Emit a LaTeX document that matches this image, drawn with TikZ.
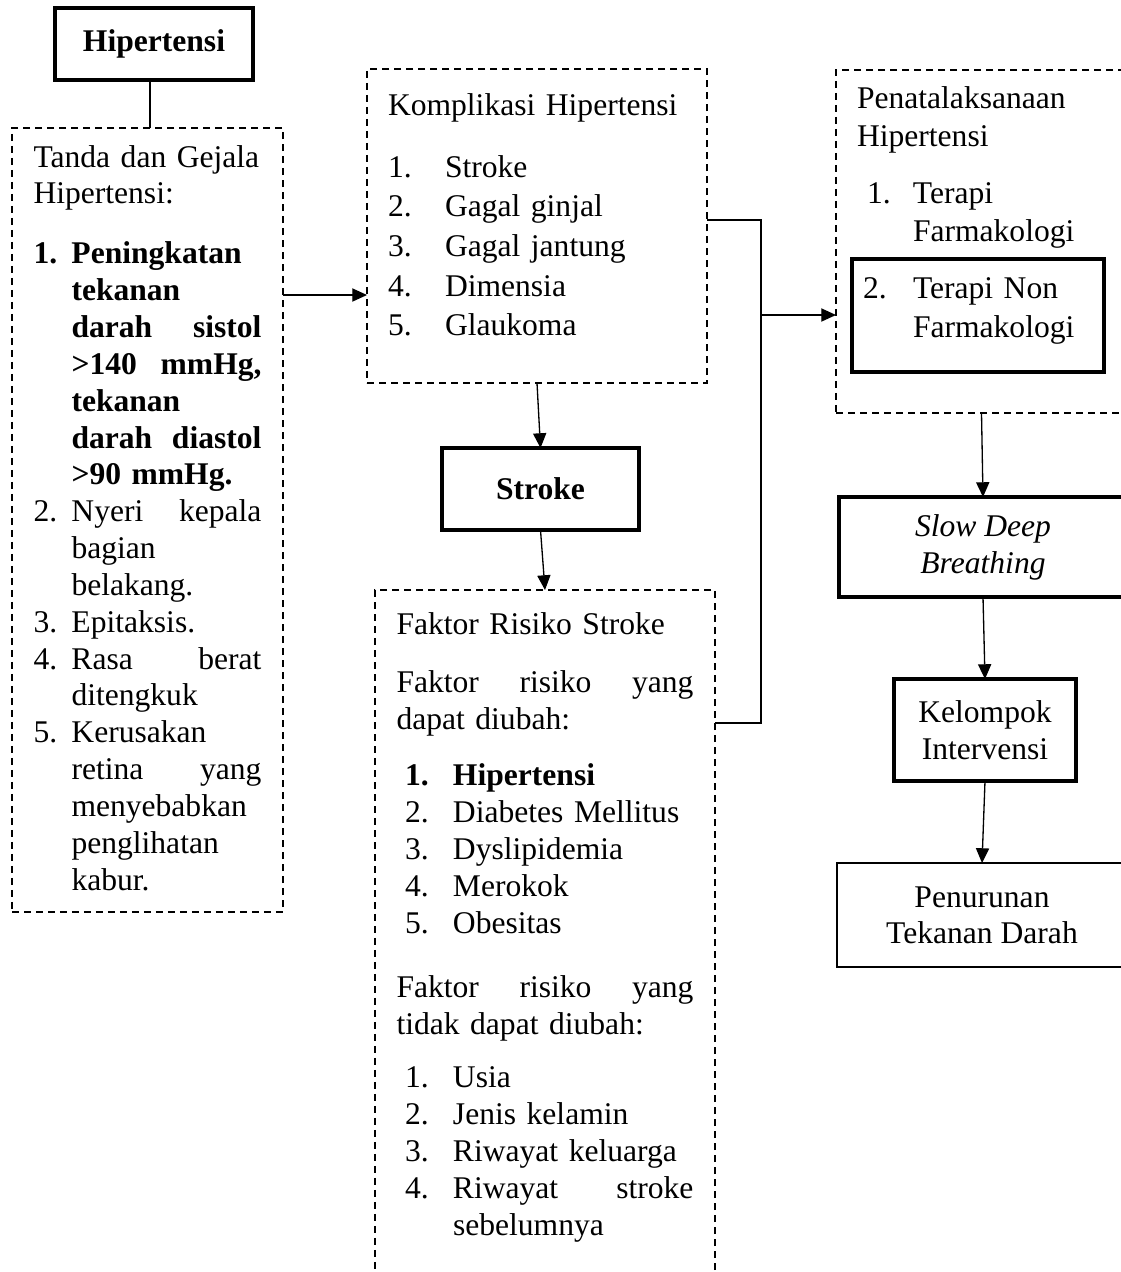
\documentclass[tikz,border=0pt]{standalone}
\usepackage{fontspec}
\setmainfont{Liberation Serif}
\usetikzlibrary{arrows.meta}

% numbered item with hanging indent: [indent]{hang}{label}{text}
\newcommand{\numitem}[4][0pt]{\hangindent=#2\hangafter=1\noindent\hspace*{#1}\makebox[\dimexpr#2-#1\relax][l]{#3}#4\par}

\begin{document}
\begin{tikzpicture}[x=0.38pt, y=-0.38pt,
    dashbox/.style={draw, line width=0.6pt, dash pattern=on 2.66pt off 1.9pt, anchor=north west, inner ysep=0pt, outer sep=0pt},
    solidbox/.style={draw, line width=#1, outer sep=0pt},
    link/.style={line width=0.5pt},
    arr/.style={line width=0.5pt, -{Triangle[length=5.6pt, width=5pt]}}]

    % Page frame
    \useasboundingbox (0,0) rectangle (1121,1272);
    \clip (0,0) rectangle (1121,1272);

    % Left column
    \node[solidbox=1.5pt, minimum width=75.24pt, minimum height=27.36pt, font=\fontsize{12pt}{14pt}\selectfont\bfseries] (hip) at (154,44) {Hipertensi};

    \node[dashbox, inner xsep=8.17pt, text width=86.64pt, text height=14.82pt, text depth=283.1pt, font=\fontsize{12pt}{14pt}\selectfont] (tanda) at (12,128) {Tanda dan Gejala\newline Hipertensi:\par\vspace{8.8pt}
        \numitem{14.44pt}{\textbf{1.}}{\textbf{Peningkatan\newline tekanan\newline darah\hfill sistol\newline >140\hfill mmHg,\newline tekanan\newline darah\hfill diastol\newline >90 mmHg.}}
        \numitem{14.44pt}{2.}{Nyeri\hfill kepala\newline bagian\newline belakang.}
        \numitem{14.44pt}{3.}{Epitaksis.}
        \numitem{14.44pt}{4.}{Rasa\hfill berat\newline ditengkuk}
        \numitem{14.44pt}{5.}{Kerusakan\newline retina\hfill yang\newline menyebabkan\newline penglihatan\newline kabur.}};

    % Middle column
    \node[dashbox, inner xsep=7.98pt, text width=113.24pt, text height=17.48pt, text depth=101.84pt, font=\fontsize{12pt}{15.1pt}\selectfont] (kompl) at (367,69) {Komplikasi Hipertensi\par\vspace{8.46pt}
        \numitem{21.66pt}{1.}{Stroke}
        \numitem{21.66pt}{2.}{Gagal ginjal}
        \numitem{21.66pt}{3.}{Gagal jantung}
        \numitem{21.66pt}{4.}{Dimensia}
        \numitem{21.66pt}{5.}{Glaukoma}};

    \node[solidbox=1.5pt, minimum width=74.86pt, minimum height=31.16pt, font=\fontsize{12pt}{14pt}\selectfont\bfseries] (stroke) at (540.5,489) {Stroke};

    \node[dashbox, inner xsep=8.17pt, text width=112.86pt, text height=16.72pt, text depth=249.28pt, font=\fontsize{12pt}{14.06pt}\selectfont] (faktor) at (375,590) {Faktor Risiko Stroke\par\vspace{7.98pt}
        Faktor\hfill risiko\hfill yang\newline dapat diubah:\par\vspace{7.22pt}
        \numitem[3.23pt]{21.47pt}{\textbf{1.}}{\textbf{Hipertensi}}
        \numitem[3.23pt]{21.47pt}{2.}{Diabetes Mellitus}
        \numitem[3.23pt]{21.47pt}{3.}{Dyslipidemia}
        \numitem[3.23pt]{21.47pt}{4.}{Merokok}
        \numitem[3.23pt]{21.47pt}{5.}{Obesitas}\vspace{10.26pt}
        Faktor\hfill risiko\hfill yang\newline tidak dapat diubah:\par\vspace{6.08pt}
        \numitem[3.23pt]{21.47pt}{1.}{Usia}
        \numitem[3.23pt]{21.47pt}{2.}{Jenis kelamin}
        \numitem[3.23pt]{21.47pt}{3.}{Riwayat keluarga}
        \numitem[3.23pt]{21.47pt}{4.}{Riwayat\hfill stroke\newline sebelumnya}};

    % Right column
    \node[dashbox, inner xsep=7.98pt, text width=94.62pt, text height=14.44pt, text depth=115.9pt, font=\fontsize{12pt}{14.6pt}\selectfont] (pena) at (836,70) {Penatalaksanaan\newline Hipertensi\par\vspace{7.06pt}
        \numitem[3.8pt]{21.28pt}{1.}{Terapi\newline Farmakologi}};

    \node[solidbox=1.3pt, anchor=north west, inner xsep=4.18pt, inner ysep=0pt, text width=87.4pt, text height=14.82pt, text depth=28.12pt, font=\fontsize{12pt}{14.82pt}\selectfont] (nonfarm) at (852,259) {\numitem{19pt}{2.}{Terapi Non\newline Farmakologi}};

    \node[solidbox=1.5pt, align=center, minimum width=109.44pt, minimum height=38pt, font=\fontsize{12pt}{14.06pt}\selectfont\itshape] (sdb) at (983,547) {Slow Deep\\Breathing};

    \node[solidbox=1.25pt, align=center, minimum width=69.16pt, minimum height=38.76pt, font=\fontsize{12pt}{14.06pt}\selectfont] (kel) at (985,730) {Kelompok\\Intervensi};

    \node[solidbox=1pt, align=center, minimum width=110.2pt, minimum height=39.52pt, font=\fontsize{12pt}{13.7pt}\selectfont] (turun) at (982,915) {Penurunan\\Tekanan Darah};

    % Junction points
    \coordinate (jh) at (150,80);
    \coordinate (ja) at (283,295);
    \coordinate (jt) at (761,220);
    \coordinate (jm) at (761,315);
    \coordinate (jb) at (761,723);

    % Connectors
    \draw[link] (jh) -- (jh |- tanda.north);
    \draw[arr] (ja) -- (kompl.west |- ja);
    \draw[arr] (kompl.south) -- (stroke.north);
    \draw[arr] (stroke.south) -- (faktor.north);
    \draw[link] (kompl.east |- jt) -- (jt) -- (jb) -- (faktor.east |- jb);
    \draw[arr] (jm) -- (pena.west |- jm);
    \draw[arr] (pena.south) -- (sdb.north);
    \draw[arr] (sdb.south) -- (kel.north);
    \draw[arr] (kel.south) -- (turun.north);
\end{tikzpicture}
\end{document}
